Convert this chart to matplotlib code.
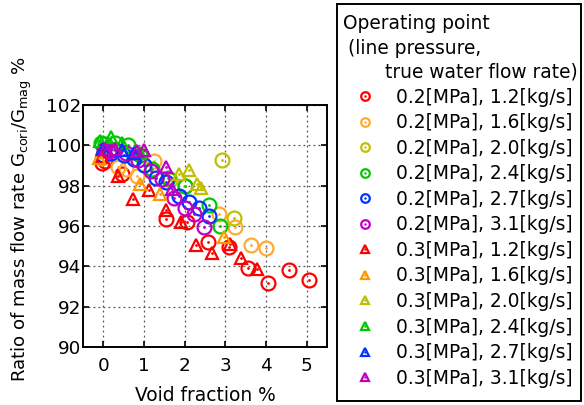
import matplotlib
matplotlib.use("Agg")
import matplotlib.pyplot as plt
from matplotlib.patches import Rectangle
from matplotlib.legend_handler import HandlerTuple

plt.rcParams['font.family'] = ['DejaVu Sans']
plt.rcParams['mathtext.fontset'] = 'dejavusans'

# ---- data ----
labels = ["0.2[MPa], 1.2[kg/s]", "0.2[MPa], 1.6[kg/s]", "0.2[MPa], 2.0[kg/s]",
          "0.2[MPa], 2.4[kg/s]", "0.2[MPa], 2.7[kg/s]", "0.2[MPa], 3.1[kg/s]",
          "0.3[MPa], 1.2[kg/s]", "0.3[MPa], 1.6[kg/s]", "0.3[MPa], 2.0[kg/s]",
          "0.3[MPa], 2.4[kg/s]", "0.3[MPa], 2.7[kg/s]", "0.3[MPa], 3.1[kg/s]"]

c12_x = [-0.03, 0.05, 0.47, 1.55, 2.06, 2.57, 3.09, 3.55, 4.05, 4.56, 5.05]
c12_y = [99.1, 99.2, 98.6, 96.35, 96.2, 95.2, 94.95, 93.9, 93.2, 93.8, 93.3]
c16_x = [-0.02, 0.35, 0.55, 0.84, 1.25, 2.84, 3.24, 3.63, 3.99]
c16_y = [99.35, 98.9, 98.8, 98.5, 99.2, 96.6, 95.95, 95.05, 94.9]
c20_x = [1.65, 2.0, 2.92, 3.21]
c20_y = [98.3, 98.0, 99.25, 96.4]
c24_x = [-0.05, 0.05, 0.3, 0.6, 0.9, 1.2, 1.6, 2.0, 2.6, 2.87]
c24_y = [100.1, 100.05, 100.1, 100.0, 99.5, 98.8, 98.4, 98.0, 97.05, 96.0]
c27_x = [0.0, 0.2, 0.5, 0.75, 1.0, 1.3, 1.55, 1.85, 2.1, 2.35, 2.6]
c27_y = [99.5, 99.6, 99.5, 99.3, 99.0, 98.4, 98.2, 97.5, 97.2, 96.9, 96.5]
c31_x = [0.02, 0.15, 0.3, 0.55, 0.85, 1.17, 1.45, 1.75, 2.0, 2.23, 2.47]
c31_y = [99.75, 99.7, 99.75, 99.6, 99.25, 98.7, 98.35, 97.4, 96.9, 96.6, 95.95]
t12_x = [-0.02, 0.35, 0.73, 1.13, 1.53, 1.9, 2.28, 2.68, 3.12, 3.39, 3.79]
t12_y = [99.4, 98.5, 97.35, 97.8, 96.8, 96.2, 95.05, 94.65, 95.1, 94.4, 93.85]
t16_x = [-0.1, 0.9, 1.4, 2.96]
t16_y = [99.35, 98.1, 97.6, 95.45]
t20_x = [1.86, 2.1, 2.3, 2.4]
t20_y = [98.6, 98.75, 98.1, 97.9]
t24_x = [-0.08, 0.19, 0.45, 0.9]
t24_y = [100.2, 100.4, 100.1, 99.6]
t27_x = [0.0, 0.47, 0.75]
t27_y = [99.8, 99.75, 99.6]
t31_x = [0.05, 0.3, 0.84, 1.0, 1.55, 1.7]
t31_y = [99.8, 99.8, 99.7, 99.75, 98.9, 97.85]

series_x = [c12_x, c16_x, c20_x, c24_x, c27_x, c31_x, t12_x, t16_x, t20_x, t24_x, t27_x, t31_x]
series_y = [c12_y, c16_y, c20_y, c24_y, c27_y, c31_y, t12_y, t16_y, t20_y, t24_y, t27_y, t31_y]

circle_colors = ['#ff0000', '#ffaa33', '#c0c000', '#00c800', '#0033ff', '#c000c0']
tri_colors = ['#ff0000', '#ff9900', '#c0c000', '#00c800', '#0033ff', '#c000c0']
colors = circle_colors + tri_colors
markers = ['o'] * 6 + ['^'] * 6
sizes = [10] * 6 + [9] * 6

fig = plt.figure(figsize=(5.84, 4.05), dpi=100)
ax = fig.add_axes([0.142, 0.143, 0.418, 0.598])

handles = []
for xs, ys, c, m, s in zip(series_x, series_y, colors, markers, sizes):
    ax.plot(xs, ys, linestyle='none', marker=m, markersize=s, markerfacecolor='none',
            markeredgecolor=c, markeredgewidth=1.6)
    ax.plot(xs, ys, linestyle='none', marker='.', markersize=2, color=c)
    h1, = ax.plot([], [], linestyle='none', marker=m, markersize=s * 0.62,
                  markerfacecolor='none', markeredgecolor=c, markeredgewidth=1.6)
    h2, = ax.plot([], [], linestyle='none', marker='.', markersize=1.5, color=c)
    handles.append((h1, h2))

ax.set_xlim(-0.5, 5.5)
ax.set_ylim(90, 102)
ax.set_xticks([0, 1, 2, 3, 4, 5])
ax.set_yticks([90, 92, 94, 96, 98, 100, 102])
ax.grid(True, linestyle=(0, (1.5, 2.5)), color='#555555', linewidth=0.9)
ax.tick_params(direction='in', top=True, right=True, labelsize=13.2, length=4, width=1.2)
ax.tick_params(axis='x', pad=7)
ax.tick_params(axis='y', pad=1.5)
for sp in ax.spines.values():
    sp.set_linewidth(1.4)
ax.set_xlabel("Void fraction %", fontsize=13.4, labelpad=8)
ax.set_ylabel(r"Ratio of mass flow rate G$_{\rm cori}$/G$_{\rm mag}$ %", fontsize=13.1)
ax.yaxis.set_label_coords(-0.2, 0.53)

# legend box
fig.patches.append(Rectangle((0.577, 0.010), 0.418, 0.980, transform=fig.transFigure,
                             fill=False, edgecolor='black', linewidth=1.4))
fig.text(0.587, 0.941, "Operating point", fontsize=13.4, va='center', ha='left')
fig.text(0.596, 0.880, "(line pressure,", fontsize=13.4, va='center', ha='left')
fig.text(0.659, 0.821, "true water flow rate)", fontsize=13.4, va='center', ha='left')

fig.legend(handles, labels, loc='upper left', bbox_to_anchor=(0.611, 0.783),
           frameon=False, fontsize=13.4, handler_map={tuple: HandlerTuple(ndivide=1)},
           handlelength=0.9, handletextpad=1.2, labelspacing=0.35, borderaxespad=0,
           borderpad=0)

fig.savefig("out.png", dpi=100)
